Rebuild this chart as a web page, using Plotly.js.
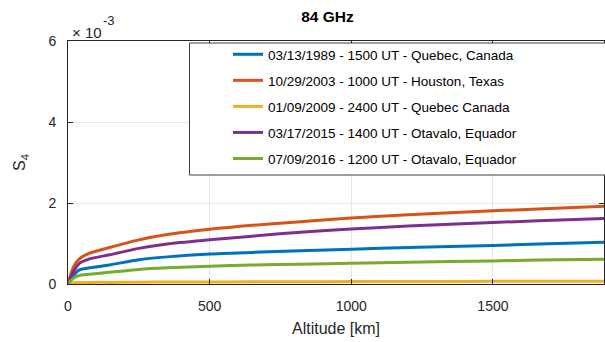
<!DOCTYPE html>
<html>
<head>
<meta charset="utf-8">
<script src="https://cdn.plot.ly/plotly-3.0.1.min.js"></script>
<style>html,body{margin:0;padding:0;background:#fff;}#chart{width:605px;height:342px;}</style>
</head>
<body>
<div id="chart"></div>
<script>
// Altitude [km]
var altitude = [0, 10, 23, 40, 76, 146, 250, 350, 500, 650, 820, 1000, 1200, 1500, 1660, 1895];
// S4 values (actual, axis shown in units of 1e-3)
var s4_1989 = [0, 0.00012, 0.00024, 0.00035, 0.00040, 0.00047, 0.00060, 0.00067, 0.00074, 0.00078, 0.00082, 0.00086, 0.00090, 0.00095, 0.00099, 0.00103];
var s4_2003 = [0, 0.00025, 0.00047, 0.00062, 0.00076, 0.00090, 0.00109, 0.00122, 0.00135, 0.00145, 0.00154, 0.00163, 0.00171, 0.00181, 0.00185, 0.00192];
var s4_2009 = [0, 0.00002, 0.00003, 0.000035, 0.00004, 0.00004, 0.000045, 0.00005, 0.00005, 0.000055, 0.000055, 0.00006, 0.00006, 0.000065, 0.00007, 0.00007];
var s4_2015 = [0, 0.00018, 0.00035, 0.00051, 0.00062, 0.00072, 0.00088, 0.00099, 0.00109, 0.00118, 0.00128, 0.00136, 0.00143, 0.00152, 0.00156, 0.00162];
var s4_2016 = [0, 0.00008, 0.00016, 0.00021, 0.00024, 0.00029, 0.00036, 0.00040, 0.00044, 0.00047, 0.00049, 0.00051, 0.00054, 0.00057, 0.00059, 0.00061];

var seriesNames = [
  "03/13/1989 - 1500 UT - Quebec, Canada",
  "10/29/2003 - 1000 UT - Houston, Texas",
  "01/09/2009 - 2400 UT - Quebec Canada",
  "03/17/2015 - 1400 UT - Otavalo, Equador",
  "07/09/2016 - 1200 UT - Otavalo, Equador"
];
var seriesValues = [s4_1989, s4_2003, s4_2009, s4_2015, s4_2016];
var colors = ["#0072BD", "#D95319", "#EDB120", "#7E2F8E", "#77AC30"];

var xTicks = [0, 500, 1000, 1500];
var yTickVals = [0, 0.002, 0.004, 0.006];
var yTickText = ["0", "2", "4", "6"];

var traces = seriesNames.map(function(n, i) {
  return {
    x: altitude, y: seriesValues[i], name: n, type: "scatter", mode: "lines",
    legendgroup: "g" + i,
    line: {color: colors[i], width: 3, shape: "spline", smoothing: 0.7}
  };
});

var FONT = "Liberation Sans, Arial, Helvetica, sans-serif";
var TXT = "#262626";
var L = 68, R = 1, T = 41, B = 58, W = 605, H = 342;
var pw = W - L - R, ph = H - T - B;
function px(x) { return (x - L) / pw; }
function py(y) { return (H - B - y) / ph; }

var layout = {
  width: W, height: H,
  margin: {l: L, r: R, t: T, b: B, pad: 0},
  paper_bgcolor: "#fff", plot_bgcolor: "#fff",
  font: {family: FONT, color: TXT, size: 14},
  title: {text: "<b>84 GHz</b>", font: {size: 15.5, color: "#000"}, x: px(327.5), xref: "paper", xanchor: "center", y: 1 - 17/H, yanchor: "middle"},
  showlegend: true,
  legend: {
    x: px(228), xanchor: "left", y: py(39), yanchor: "top",
    bgcolor: "rgba(0,0,0,0)", borderwidth: 0,
    font: {size: 13.5, color: "#000"},
    traceorder: "grouped", tracegroupgap: 5.5,
    itemwidth: 30
  },
  xaxis: {
    range: [0, 1892], tickvals: xTicks, ticks: "inside", ticklen: 5, tickcolor: TXT,
    showline: true, linecolor: TXT, linewidth: 1, mirror: "ticks",
    showgrid: true, gridcolor: "#e6e6e6", zeroline: false,
    tickfont: {size: 14, color: TXT}, ticklabelstandoff: 9,
    title: {text: "Altitude [km]", font: {size: 16, color: TXT}, standoff: 10}
  },
  yaxis: {
    range: [0, 0.006], tickvals: yTickVals, ticktext: yTickText, ticks: "inside", ticklen: 5, tickcolor: TXT,
    showline: true, linecolor: TXT, linewidth: 1, mirror: "ticks",
    showgrid: true, gridcolor: "#e6e6e6", zeroline: false,
    tickfont: {size: 14, color: TXT}, ticklabelstandoff: 8,
    title: {text: "S<sub>4</sub>", font: {size: 16, color: TXT}, standoff: 18}
  },
  shapes: [{
    type: "rect", xref: "paper", yref: "paper",
    x0: px(189.5), x1: 1.1, y0: py(175), y1: py(43),
    line: {color: "#404040", width: 1}, fillcolor: "#fff", layer: "above"
  }],
  annotations: [{
    xref: "paper", yref: "paper", x: px(70), y: py(32), xanchor: "left", yanchor: "middle",
    text: "× 10", showarrow: false, font: {size: 15, color: TXT}
  }, {
    xref: "paper", yref: "paper", x: px(101), y: py(21), xanchor: "left", yanchor: "middle",
    text: "-3", showarrow: false, font: {size: 13, color: TXT}
  }]
};

Plotly.newPlot("chart", traces, layout, {displayModeBar: false, staticPlot: true});
</script>
</body>
</html>
